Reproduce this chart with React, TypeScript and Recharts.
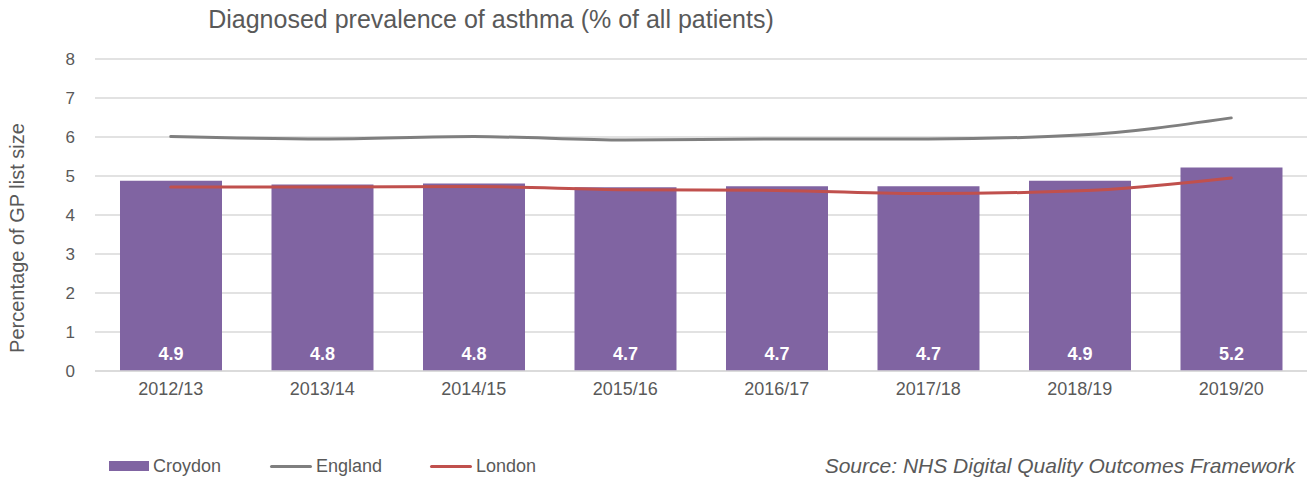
import React from 'react';
import { ComposedChart, Bar, Line, XAxis, YAxis, CartesianGrid, Legend, LabelList } from 'recharts';

const years = ['2012/13', '2013/14', '2014/15', '2015/16', '2016/17', '2017/18', '2018/19', '2019/20'];
const croydon = [4.88, 4.78, 4.81, 4.71, 4.74, 4.74, 4.88, 5.22];
const england = [6.01, 5.95, 6.01, 5.92, 5.95, 5.95, 6.05, 6.49];
const london = [4.72, 4.72, 4.73, 4.65, 4.63, 4.55, 4.62, 4.95];
const yTicks = [0, 1, 2, 3, 4, 5, 6, 7, 8];

const rows = years.map((year, i) => ({
  year,
  Croydon: croydon[i],
  England: england[i],
  London: london[i],
}));

const font = 'Arial, "Liberation Sans", sans-serif';
const textColor = '#595959';

function renderLegend() {
  const items = [
    { name: 'Croydon', color: '#8064a2', type: 'rect', width: 161 },
    { name: 'England', color: '#7f7f7f', type: 'line', width: 160 },
    { name: 'London', color: '#c0504d', type: 'line', width: 120 },
  ];
  return (
    <div style={{ display: 'flex', alignItems: 'center', height: 30, paddingLeft: 109, fontFamily: font, fontSize: 18, color: textColor }}>
      {items.map(item => (
        <div key={item.name} style={{ display: 'flex', alignItems: 'center', width: item.width }}>
          {item.type === 'rect' ? (
            <div style={{ width: 40, height: 10, background: item.color }} />
          ) : (
            <div style={{ width: 42, height: 3, borderRadius: 2, background: item.color }} />
          )}
          <span style={{ marginLeft: 4 }}>{item.name}</span>
        </div>
      ))}
    </div>
  );
}

export default function App() {
  return (
    <div style={{ position: 'absolute', left: 0, top: 0, width: 1308, height: 481, background: '#fff' }}>
      <ComposedChart
        width={1308}
        height={481}
        data={rows}
        margin={{ top: 59, right: 1, left: 0, bottom: 0 }}
        barCategoryGap="16.5%"
      >
        <CartesianGrid vertical={false} stroke="#d9d9d9" strokeWidth={1.5} />
        <XAxis
          dataKey="year"
          height={80}
          tickLine={false}
          axisLine={{ stroke: '#d9d9d9', strokeWidth: 1.5 }}
          tick={{ fill: textColor, fontSize: 18, fontFamily: font }}
          tickMargin={5}
        />
        <YAxis
          width={95}
          domain={[0, 8]}
          ticks={yTicks}
          tickLine={false}
          axisLine={false}
          tick={{ fill: textColor, fontSize: 17, fontFamily: font }}
          tickMargin={14}
        />
        <Legend verticalAlign="bottom" height={30} content={renderLegend} />
        <Bar dataKey="Croydon" fill="#8064a2" isAnimationActive={false}>
          <LabelList
            dataKey="Croydon"
            position="insideBottom"
            offset={11}
            formatter={(v: number) => v.toFixed(1)}
            style={{ fill: '#fff', fontWeight: 'bold', fontSize: 18, fontFamily: font }}
          />
        </Bar>
        <Line type="monotone" dataKey="England" stroke="#7f7f7f" strokeWidth={3} strokeLinecap="round" dot={false} isAnimationActive={false} />
        <Line type="monotone" dataKey="London" stroke="#c0504d" strokeWidth={3} strokeLinecap="round" dot={false} isAnimationActive={false} />
        <text
          x={19}
          y={238}
          transform="rotate(-90 19 238)"
          textAnchor="middle"
          dominantBaseline="middle"
          fill={textColor}
          fontSize={20}
          fontFamily={font}
        >
          Percentage of GP list size
        </text>
        <text x={491} y={21} textAnchor="middle" dominantBaseline="middle" fill={textColor} fontSize={25} fontFamily={font}>
          Diagnosed prevalence of asthma (% of all patients)
        </text>
        <text x={1295} y={467} textAnchor="end" dominantBaseline="middle" fill={textColor} fontSize={21} fontStyle="italic" fontFamily={font}>
          Source: NHS Digital Quality Outcomes Framework
        </text>
      </ComposedChart>
    </div>
  );
}
